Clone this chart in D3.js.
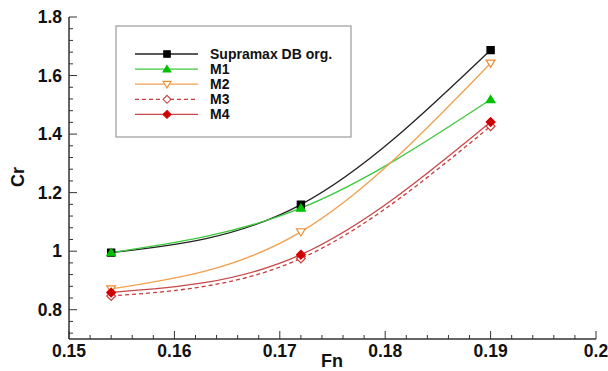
<!DOCTYPE html>
<html><head><meta charset="utf-8">
<script src="https://cdn.jsdelivr.net/npm/d3@7"></script>
<style>body{margin:0;background:#fff}svg{display:block}</style>
</head><body>
<script>
const fnValues = [0.154, 0.172, 0.19];
const seriesNames = ["Supramax DB org.", "M1", "M2", "M3", "M4"];
const supramax = [0.995, 1.159, 1.687];
const m1 = [0.995, 1.147, 1.518];
const m2 = [0.871, 1.066, 1.642];
const m3 = [0.847, 0.975, 1.427];
const m4 = [0.859, 0.988, 1.441];
const xTicks = [0.15, 0.16, 0.17, 0.18, 0.19, 0.2];
const xTickLabels = ["0.15", "0.16", "0.17", "0.18", "0.19", "0.2"];
const yTicks = [0.8, 1, 1.2, 1.4, 1.6, 1.8];
const yTickLabels = ["0.8", "1", "1.2", "1.4", "1.6", "1.8"];

const W = 608, H = 371;
const svg = d3.select("body").append("svg").attr("width", W).attr("height", H);
const x = d3.scaleLinear().domain([0.15, 0.2]).range([69, 596]);
const y = d3.scaleLinear().domain([0.7, 1.8]).range([339, 17]);
const font = "'Liberation Sans', Arial, sans-serif";

const styles = [
  {vals: supramax, line: "#222", dash: null, marker: "square", fill: "#000", stroke: "#000"},
  {vals: m1, line: "#3cc83c", dash: null, marker: "triUp", fill: "#00c000", stroke: "#00c000"},
  {vals: m2, line: "#f0a050", dash: null, marker: "triDown", fill: "#fff", stroke: "#f08a30"},
  {vals: m3, line: "#c83c3c", dash: "4,3", marker: "diamond", fill: "#fff", stroke: "#c83c3c"},
  {vals: m4, line: "#c84848", dash: null, marker: "diamond", fill: "#d00000", stroke: "#d00000"}
];

function markerPath(type) {
  const s = 3.6;
  if (type === "square") return `M${-s},${-s}H${s}V${s}H${-s}Z`;
  if (type === "triUp") return `M0,${-s-0.5}L${s+0.8},${s-0.5}L${-s-0.8},${s-0.5}Z`;
  if (type === "triDown") return `M${-s-0.8},${-s+0.5}L${s+0.8},${-s+0.5}L0,${s+0.5}Z`;
  if (type === "diamond") return `M0,${-s-0.8}L${s+0.8},0L0,${s+0.8}L${-s-0.8},0Z`;
}

// axes
const axisColor = "#333";
const g = svg.append("g");
g.append("line").attr("x1", x(0.15)).attr("x2", x(0.2)).attr("y1", y(0.7)).attr("y2", y(0.7)).attr("stroke", axisColor).attr("stroke-width", 1.5);
g.append("line").attr("x1", x(0.15)).attr("x2", x(0.15)).attr("y1", y(0.7)).attr("y2", y(1.8)).attr("stroke", axisColor).attr("stroke-width", 1.5);

const xMinor = d3.range(0, 26).map(i => 0.15 + i * 0.002);
xMinor.forEach(v => {
  const major = xTicks.some(t => Math.abs(t - v) < 1e-9);
  g.append("line").attr("x1", x(v)).attr("x2", x(v)).attr("y1", y(0.7)).attr("y2", y(0.7) - (major ? 8 : 4)).attr("stroke", axisColor).attr("stroke-width", 1);
});
xTicks.forEach((t, i) => {
  g.append("text").attr("x", x(t)).attr("y", 357).attr("text-anchor", "middle")
    .attr("font-family", font).attr("font-weight", "bold").attr("font-size", 17.5).attr("fill", "#111").text(xTickLabels[i]);
});
const yMinor = d3.range(0, 28).map(i => 0.72 + i * 0.04);
yMinor.forEach(v => {
  if (v > 1.8001) return;
  const major = yTicks.some(t => Math.abs(t - v) < 1e-9);
  g.append("line").attr("x1", x(0.15)).attr("x2", x(0.15) + (major ? 8 : 4)).attr("y1", y(v)).attr("y2", y(v)).attr("stroke", axisColor).attr("stroke-width", 1);
});
yTicks.forEach((t, i) => {
  g.append("text").attr("x", 62).attr("y", y(t) + 6).attr("text-anchor", "end")
    .attr("font-family", font).attr("font-weight", "bold").attr("font-size", 17.5).attr("fill", "#111").text(yTickLabels[i]);
});
svg.append("text").attr("x", 332).attr("y", 367).attr("text-anchor", "middle")
  .attr("font-family", font).attr("font-weight", "bold").attr("font-size", 18).attr("fill", "#111").text("Fn");
svg.append("text").attr("transform", "translate(24,177) rotate(-90)").attr("text-anchor", "middle")
  .attr("font-family", font).attr("font-weight", "bold").attr("font-size", 18).attr("fill", "#111").text("Cr");

const lineGen = d3.line().x(d => x(d[0])).y(d => y(d[1])).curve(d3.curveNatural);
styles.forEach(s => {
  const pts = fnValues.map((f, i) => [f, s.vals[i]]);
  svg.append("path").attr("d", lineGen(pts)).attr("fill", "none").attr("stroke", s.line)
    .attr("stroke-width", 1.3).attr("stroke-dasharray", s.dash);
});
styles.forEach(s => {
  fnValues.forEach((f, i) => {
    svg.append("path").attr("d", markerPath(s.marker)).attr("transform", `translate(${x(f)},${y(s.vals[i])})`)
      .attr("fill", s.fill).attr("stroke", s.stroke).attr("stroke-width", 1.2);
  });
});

const leg = svg.append("g");
leg.append("rect").attr("x", 116).attr("y", 26).attr("width", 235).attr("height", 111)
  .attr("fill", "#fff").attr("stroke", "#999").attr("stroke-width", 1.2);
styles.forEach((s, i) => {
  const ly = 54 + i * 15.1;
  leg.append("line").attr("x1", 135).attr("x2", 198).attr("y1", ly).attr("y2", ly)
    .attr("stroke", s.line).attr("stroke-width", 1.3).attr("stroke-dasharray", s.dash);
  leg.append("path").attr("d", markerPath(s.marker)).attr("transform", `translate(167,${ly}) scale(0.9)`)
    .attr("fill", s.fill).attr("stroke", s.stroke).attr("stroke-width", 1.2);
  leg.append("text").attr("x", 210).attr("y", ly + 5).attr("font-family", font).attr("font-weight", "bold")
    .attr("font-size", 14).attr("fill", "#111").text(seriesNames[i]);
});
</script>
</body></html>
